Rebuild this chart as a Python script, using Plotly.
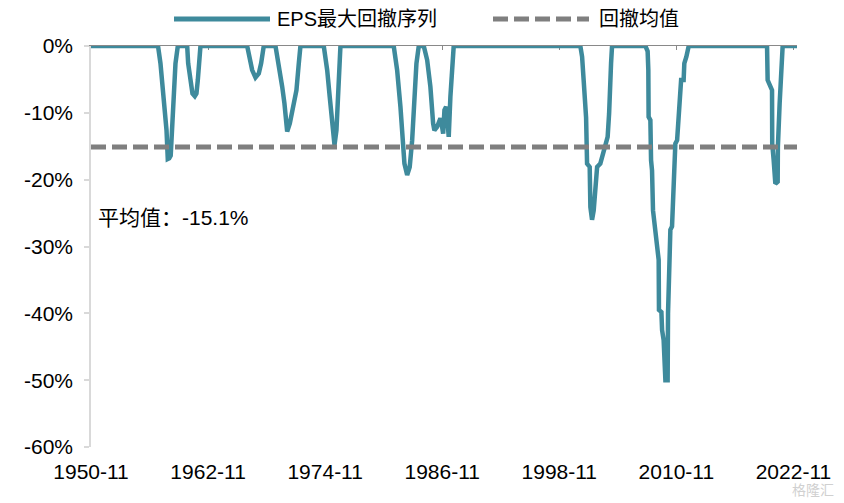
import plotly.graph_objects as go

# ---------------- data ----------------
dd_year = [
    1950.83,
    1957.70, 1957.95, 1958.29, 1958.57, 1958.70, 1958.85, 1959.00, 1959.15, 1959.32, 1959.49, 1959.73,
    1960.69, 1960.79, 1961.03, 1961.23, 1961.47, 1961.64, 1961.78, 1961.92, 1962.05,
    1966.84, 1967.11, 1967.35, 1967.69, 1968.03, 1968.27, 1968.54,
    1969.74, 1970.08, 1970.43, 1970.66, 1970.94, 1971.21, 1971.62, 1971.89, 1972.13, 1972.30,
    1974.69, 1975.04, 1975.30, 1975.55, 1975.79, 1975.99, 1976.13, 1976.27, 1976.40,
    1981.86, 1982.21, 1982.55, 1982.83, 1982.96, 1983.24, 1983.50, 1983.75, 1983.99, 1984.19, 1984.43,
    1984.94, 1985.29, 1985.62, 1985.90, 1986.03, 1986.31, 1986.65, 1986.82, 1986.93, 1987.06, 1987.23,
    1987.34, 1987.50, 1987.67, 1987.85, 1988.01,
    2000.99, 2001.17, 2001.33, 2001.58, 2001.68, 2001.95, 2002.02, 2002.19, 2002.36, 2002.53, 2002.71,
    2003.04, 2003.32, 2003.56, 2003.79, 2003.94, 2004.00, 2004.14, 2004.24,
    2007.66, 2007.89, 2007.96, 2007.99, 2008.17, 2008.24, 2008.34, 2008.44, 2008.68, 2008.86, 2009.02,
    2009.05, 2009.30, 2009.37, 2009.53, 2009.71, 2009.94, 2009.98, 2010.05, 2010.22, 2010.39, 2010.56,
    2010.73, 2010.91, 2011.07, 2011.17, 2011.32, 2011.58, 2011.65, 2011.86, 2012.10,
    2020.13, 2020.19, 2020.64, 2020.66, 2020.81, 2020.98, 2021.22, 2021.24, 2021.42, 2021.67, 2021.73,
    2023.20,
]
dd_value = [
    0.0,
    0.0, -2.6, -7.6, -12.6, -16.9, -16.8, -16.4, -12.6, -7.6, -2.6, 0.0,
    0.0, -2.6, -5.1, -7.1, -7.5, -7.1, -5.1, -2.6, 0.0,
    0.0, -2.1, -3.6, -4.7, -4.1, -2.6, 0.0,
    0.0, -2.6, -6.1, -8.6, -12.8, -11.6, -8.6, -6.6, -2.6, 0.0,
    0.0, -3.6, -7.6, -11.6, -14.8, -12.6, -7.6, -3.6, 0.0,
    0.0, -3.6, -9.1, -14.1, -17.6, -19.3, -18.1, -14.1, -7.6, -2.6, 0.0,
    0.0, -2.1, -6.1, -11.6, -12.6, -12.1, -10.8, -12.1, -13.1, -9.6, -9.1,
    -10.6, -13.6, -7.6, -2.6, 0.0,
    0.0, -1.6, -5.1, -10.7, -17.6, -18.1, -24.1, -26.0, -24.6, -22.1, -18.1,
    -17.6, -16.1, -14.6, -13.6, -10.1, -5.1, -2.6, 0.0,
    0.0, -0.8, -3.6, -10.6, -11.1, -17.1, -18.6, -24.6, -27.5, -30.5, -32.0,
    -39.5, -39.8, -42.5, -44.0, -50.0, -50.0, -40.0, -35.5, -27.5, -27.0, -19.1,
    -14.6, -14.1, -10.1, -6.1, -5.1, -5.1, -2.6, -1.6, 0.0,
    0.0, -5.1, -6.6, -14.6, -17.1, -20.6, -20.3, -15.1, -8.6, -0.6, 0.0,
    0.0,
]
mean_value = -15.1

x_tick_labels = ["1950-11", "1962-11", "1974-11", "1986-11", "1998-11", "2010-11", "2022-11"]
y_tick_values = [0, -10, -20, -30, -40, -50, -60]
y_tick_labels = ["0%", "-10%", "-20%", "-30%", "-40%", "-50%", "-60%"]

series_name = "EPS最大回撤序列"
mean_name = "回撤均值"
mean_label = "平均值：-15.1%"

# ---------------- styling ----------------
TEAL = "#3E8A9C"
GRAY = "#7F7F7F"
FONT = "Liberation Sans, Arial, Noto Sans CJK SC, sans-serif"
FS = 21


def label_to_year(s):
    y, m = s.split("-")
    return int(y) + (int(m) - 1) / 12.0


x_tick_vals = [label_to_year(s) for s in x_tick_labels]
x_lo, x_hi = dd_year[0], dd_year[-1]

# page is 844x503; the html body has an 8px margin
OFF = 8
W, H = 844 - OFF, 503 - OFF
ML, MR, MT, MB = 83, 47, 38, 56
PL, PR, PT, PB = OFF + ML, OFF + W - MR, OFF + MT, OFF + H - MB  # plot box in page px
PW, PH = PR - PL, PB - PT


def px_x(px):
    return (px - PL) / PW


def px_y(py):
    return (PB - py) / PH


fig = go.Figure()
fig.add_trace(go.Scatter(
    x=dd_year, y=dd_value, mode="lines", name=series_name,
    line=dict(color=TEAL, width=4.5), cliponaxis=False,
    showlegend=False, hoverinfo="skip",
))
fig.add_trace(go.Scatter(
    x=[x_lo, x_hi], y=[mean_value, mean_value], mode="lines", name=mean_name,
    xaxis="x2", line=dict(color=GRAY, width=5, dash="15px,6px"),
    showlegend=False, hoverinfo="skip",
))

fig.update_layout(
    width=W, height=H, autosize=False,
    margin=dict(l=ML, r=MR, t=MT, b=MB, pad=0),
    paper_bgcolor="white", plot_bgcolor="white",
    font=dict(family=FONT, size=FS, color="black"),
    showlegend=False,
    xaxis=dict(
        range=[x_lo, x_hi], tickvals=x_tick_vals, ticktext=x_tick_labels,
        showline=False, showgrid=False, zeroline=False,
        ticks="outside", ticklen=6, tickcolor="rgba(0,0,0,0)",
        tickfont=dict(family=FONT, size=FS, color="black"),
    ),
    xaxis2=dict(
        overlaying="x", matches="x", side="top", anchor="y",
        tickvals=x_tick_vals, showticklabels=False,
        showline=True, linecolor="#898989", linewidth=1.3,
        ticks="inside", ticklen=4, tickcolor="#898989", tickwidth=1.3,
        showgrid=False, zeroline=False, layer="below traces",
    ),
    yaxis=dict(
        range=[-60, 0], tickvals=y_tick_values, ticktext=y_tick_labels,
        showline=True, linecolor="#D9D9D9", linewidth=1.5,
        ticks="outside", ticklen=5, tickcolor="#D9D9D9", tickwidth=1.5,
        ticklabelstandoff=7,
        showgrid=False, zeroline=False,
        tickfont=dict(family=FONT, size=FS, color="black"),
    ),
)

# custom legend
leg_y = px_y(19)
fig.add_shape(type="line", xref="paper", yref="paper",
              x0=px_x(174), x1=px_x(270), y0=leg_y, y1=leg_y,
              line=dict(color=TEAL, width=5))
fig.add_annotation(xref="paper", yref="paper", x=px_x(276), y=leg_y,
                   text=series_name, showarrow=False, xanchor="left", yanchor="middle",
                   borderpad=0, font=dict(family=FONT, size=20, color="black"))
fig.add_shape(type="line", xref="paper", yref="paper",
              x0=px_x(493), x1=px_x(589), y0=leg_y, y1=leg_y,
              line=dict(color=GRAY, width=5, dash="15px,6px"))
fig.add_annotation(xref="paper", yref="paper", x=px_x(598), y=leg_y,
                   text=mean_name, showarrow=False, xanchor="left", yanchor="middle",
                   borderpad=0, font=dict(family=FONT, size=20, color="black"))

# mean label
fig.add_annotation(xref="paper", yref="paper", x=px_x(96), y=px_y(217),
                   text=mean_label, showarrow=False, xanchor="left", yanchor="middle",
                   font=dict(family=FONT, size=FS, color="black"))

# watermark
fig.add_annotation(xref="paper", yref="paper", x=px_x(836), y=px_y(490),
                   text="格隆汇", showarrow=False, xanchor="right", yanchor="middle",
                   font=dict(family=FONT, size=14, color="#D0D0D0"))

fig.write_html("out.html")
